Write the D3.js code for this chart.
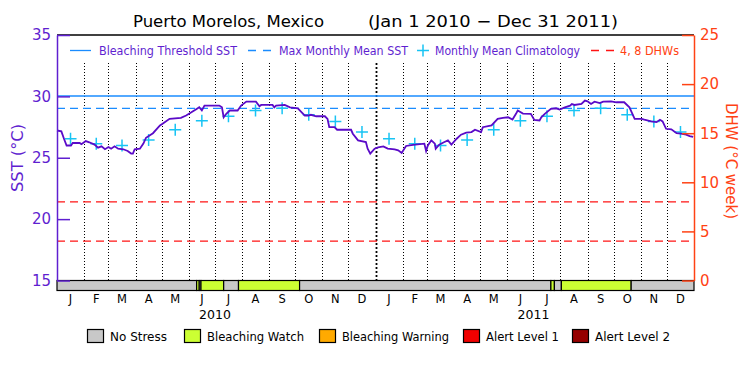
<!DOCTYPE html>
<meta charset="utf-8">
<style>

body {
  margin: 0;
  background: #fff;
}

text {
  font-family: "DejaVu Sans", sans-serif;
}

</style>
<body>
<script src="https://d3js.org/d3.v7.min.js"></script>
<script>

// monthly mean climatology (Jan..Dec), degC
var monthLabels = ["J", "F", "M", "A", "M", "J", "J", "A", "S", "O", "N", "D"];
var yearLabels = ["2010", "2011"];
var climatology = [26.55, 26.15, 26.0, 26.45, 27.28, 28.02, 28.38, 28.85, 29.03, 28.51, 27.96, 27.09];
var mmm = 29.03;
var bleachingThreshold = 30.03;
var dhwLevels = [4, 8];

var sstTicks = [15, 20, 25, 30, 35];
var dhwTicks = [0, 5, 10, 15, 20, 25];

// SST
var sstDates = [
  "2010-01-01","2010-01-06","2010-01-09","2010-01-12","2010-01-17","2010-01-19","2010-01-27","2010-01-29",
  "2010-02-03","2010-02-07","2010-02-13","2010-02-17","2010-02-21","2010-02-25",
  "2010-03-01","2010-03-04","2010-03-08","2010-03-12","2010-03-18","2010-03-23","2010-03-27","2010-03-29","2010-03-31",
  "2010-04-06","2010-04-10","2010-04-13","2010-04-21","2010-04-29",
  "2010-05-02","2010-05-10","2010-05-23","2010-05-29",
  "2010-06-04","2010-06-10","2010-06-13","2010-06-16","2010-06-19",
  "2010-07-06","2010-07-09","2010-07-11","2010-07-14","2010-07-18","2010-07-27","2010-07-31",
  "2010-08-06","2010-08-17","2010-08-21","2010-08-23",
  "2010-09-05","2010-09-07","2010-09-09","2010-09-19","2010-09-25",
  "2010-10-04","2010-10-12","2010-10-16","2010-10-19","2010-10-25",
  "2010-11-04","2010-11-07","2010-11-09","2010-11-15","2010-11-18",
  "2010-12-04","2010-12-06","2010-12-12","2010-12-21","2010-12-23","2010-12-26","2010-12-31",
  "2011-01-04","2011-01-10","2011-01-15","2011-01-23","2011-01-27","2011-01-31",
  "2011-02-05","2011-02-13","2011-02-26","2011-02-28",
  "2011-03-02","2011-03-06","2011-03-10","2011-03-11","2011-03-15","2011-03-21","2011-03-25","2011-03-29",
  "2011-04-04","2011-04-09","2011-04-15","2011-04-21","2011-04-25",
  "2011-05-02","2011-05-04","2011-05-14","2011-05-21","2011-05-27",
  "2011-06-02","2011-06-07","2011-06-11","2011-06-13","2011-06-19","2011-06-28",
  "2011-07-02","2011-07-08","2011-07-10","2011-07-14","2011-07-21","2011-07-27","2011-07-31",
  "2011-08-06","2011-08-12","2011-08-14","2011-08-17","2011-08-25","2011-08-29",
  "2011-09-01","2011-09-05","2011-09-09","2011-09-15","2011-09-19","2011-09-28",
  "2011-10-04","2011-10-13","2011-10-19","2011-10-25",
  "2011-11-02","2011-11-05","2011-11-13","2011-11-19","2011-11-23","2011-11-26","2011-11-30",
  "2011-12-06","2011-12-12","2011-12-17","2011-12-23","2011-12-27","2011-12-31"
];
var sstValues = [
  27.22, 27.15, 26.55, 26.0, 26.0, 26.2, 26.2, 26.1,
  26.36, 26.26, 26.07, 25.82, 25.93, 25.7,
  25.87, 25.74, 25.93, 25.74, 25.69, 25.55, 25.34, 25.34, 25.69,
  25.74, 26.15, 26.63, 27.0, 27.63,
  27.77, 28.17, 28.25, 28.44,
  28.7, 28.98, 29.11, 28.85, 29.25,
  29.25, 29.11, 28.3, 28.58, 28.85, 28.85, 29.25,
  29.57, 29.57, 29.19, 29.3,
  29.3, 29.11, 29.25, 29.3, 29.11,
  29.03, 28.44, 28.44, 28.5, 28.38,
  28.38, 28.17, 27.49, 27.49, 27.28,
  27.28, 26.96, 26.42, 26.28, 25.74, 25.34, 25.74,
  25.85, 25.93, 25.74, 25.69, 25.6, 25.39,
  25.96, 26.05, 26.15, 25.55,
  26.0, 26.42, 26.15, 25.74, 26.07, 26.28, 26.42, 26.07,
  26.55, 26.88, 27.04, 27.09, 27.28,
  27.09, 27.49, 27.63, 28.17, 28.25,
  28.3, 28.12, 28.58, 28.85, 28.6, 28.58,
  28.08, 28.04, 28.3, 28.58, 28.98, 29.03, 28.93,
  29.11, 29.25, 29.38, 29.3, 29.38, 29.66,
  29.6, 29.38, 29.57, 29.45, 29.57, 29.6,
  29.52, 29.52, 29.11, 28.17,
  28.17, 28.1, 27.96, 27.9, 28.09, 27.96, 27.36,
  27.31, 27.0, 26.96, 26.88, 26.77, 26.7
];

// bleaching alert stress bar: 0 = no stress, 1 = watch
var stressStarts = ["2010-01-01","2010-06-10","2010-06-13","2010-06-15","2010-07-11","2010-07-28","2010-10-06","2011-07-21","2011-07-25","2011-08-02","2011-10-21"];
var stressEnds   = ["2010-06-10","2010-06-13","2010-06-15","2010-07-11","2010-07-28","2010-10-06","2011-07-21","2011-07-25","2011-08-02","2011-10-21","2012-01-01"];
var stressLevels = [0, 1, 0, 1, 0, 1, 0, 1, 0, 1, 0];

var stressNames = ["No Stress", "Bleaching Watch", "Bleaching Warning", "Alert Level 1", "Alert Level 2"];
var stressColors = ["#c8c8c8", "#ccff33", "#ffaa00", "#f00000", "#960000"];

var parse = d3.utcParse("%Y-%m-%d");

var width = 750, height = 375;
var plotL = 57, plotR = 694, plotT = 35, plotB = 280.5;

var purple = "#5f1fd0", lineCol = "#5a0ac8", blue = "#1a8cff", cyan = "#18c4f4", orange = "#ff4214";

var svg = d3.select("body").append("svg")
    .attr("width", width)
    .attr("height", height);

var x = d3.scaleUtc()
    .domain([parse("2010-01-01"), parse("2012-01-01")])
    .range([plotL, plotR]);

var ySst = d3.scaleLinear().domain([15, 35]).range([plotB, plotT]);
var yDhw = d3.scaleLinear().domain([0, 25]).range([plotB, plotT]);

// title
svg.append("text")
    .attr("x", 133).attr("y", 27)
    .attr("font-size", 16)
    .attr("textLength", 191).attr("lengthAdjust", "spacingAndGlyphs")
    .text("Puerto Morelos, Mexico");
svg.append("text")
    .attr("x", 368).attr("y", 27)
    .attr("font-size", 16)
    .attr("textLength", 250).attr("lengthAdjust", "spacingAndGlyphs")
    .text("(Jan 1 2010 \u2212 Dec 31 2011)");

// month boundaries, dotted
var monthStarts = d3.utcMonth.range(parse("2010-02-01"), parse("2012-01-01"));
svg.append("g").selectAll("line")
    .data(monthStarts)
  .enter().append("line")
    .attr("x1", function(d) { return Math.round(x(d)) + 0.5; })
    .attr("x2", function(d) { return Math.round(x(d)) + 0.5; })
    .attr("y1", 63)
    .attr("y2", plotB)
    .attr("stroke", "#000")
    .attr("stroke-width", function(d) { return d.getUTCMonth() == 0 ? 1.8 : 1; })
    .attr("stroke-dasharray", function(d) { return d.getUTCMonth() == 0 ? "2,2" : "1,2"; });

// threshold lines
svg.append("line")
    .attr("x1", plotL).attr("x2", plotR)
    .attr("y1", ySst(bleachingThreshold)).attr("y2", ySst(bleachingThreshold))
    .attr("stroke", blue).attr("stroke-width", 1.3);
svg.append("line")
    .attr("x1", plotL).attr("x2", plotR)
    .attr("y1", ySst(mmm)).attr("y2", ySst(mmm))
    .attr("stroke", blue).attr("stroke-width", 1.3)
    .attr("stroke-dasharray", "8,5");

svg.append("g").selectAll("line")
    .data(dhwLevels)
  .enter().append("line")
    .attr("x1", plotL).attr("x2", plotR)
    .attr("y1", function(d) { return yDhw(d); })
    .attr("y2", function(d) { return yDhw(d); })
    .attr("stroke", "#ff1414").attr("stroke-width", 1.3)
    .attr("stroke-dasharray", "8,5");

// climatology crosses at mid-month, both years
var clim = [];
yearLabels.forEach(function(yr) {
  climatology.forEach(function(v, i) {
    var a = new Date(Date.UTC(+yr, i, 1)), b = new Date(Date.UTC(+yr, i + 1, 1));
    clim.push({date: new Date((+a + +b) / 2), value: v});
  });
});
svg.append("g").selectAll("path")
    .data(clim)
  .enter().append("path")
    .attr("d", function(d) {
      var cx = x(d.date), cy = ySst(d.value);
      return "M" + (cx - 6) + "," + cy + "H" + (cx + 6) + "M" + cx + "," + (cy - 6) + "V" + (cy + 6);
    })
    .attr("stroke", cyan).attr("stroke-width", 1.5).attr("fill", "none");

// SST line
var sst = sstDates.map(function(d, i) { return {date: parse(d), value: sstValues[i]}; });
svg.append("path")
    .datum(sst)
    .attr("fill", "none")
    .attr("stroke", lineCol)
    .attr("stroke-width", 1.8)
    .attr("d", d3.line()
        .x(function(d) { return x(d.date); })
        .y(function(d) { return ySst(d.value); }));

// stress bar
svg.append("g").selectAll("rect")
    .data(stressLevels)
  .enter().append("rect")
    .attr("x", function(d, i) { return x(parse(stressStarts[i])); })
    .attr("width", function(d, i) { return x(parse(stressEnds[i])) - x(parse(stressStarts[i])); })
    .attr("y", plotB)
    .attr("height", 10)
    .attr("fill", function(d) { return stressColors[d]; })
    .attr("stroke", "#000")
    .attr("stroke-width", 1.2);

// top frame
svg.append("line")
    .attr("x1", plotL).attr("x2", plotR)
    .attr("y1", plotT).attr("y2", plotT)
    .attr("stroke", "#000").attr("stroke-width", 1.5);

// left axis
var gl = svg.append("g").attr("transform", "translate(" + plotL + ",0)");
gl.call(d3.axisLeft(ySst).tickValues(d3.range(15, 36)).tickSize(-6).tickSizeOuter(0).tickFormat(""));
gl.call(d3.axisLeft(ySst).tickValues(sstTicks).tickSize(-13).tickSizeOuter(0).tickPadding(6));
gl.selectAll("path, line").attr("stroke", purple).attr("stroke-width", 1.5);
gl.selectAll("text").attr("fill", purple).attr("font-size", 15).attr("font-family", "DejaVu Sans");

// right axis
var gr = svg.append("g").attr("transform", "translate(" + plotR + ",0)");
gr.call(d3.axisRight(yDhw).tickValues(d3.range(0, 26)).tickSize(-6).tickSizeOuter(0).tickFormat(""));
gr.call(d3.axisRight(yDhw).tickValues(dhwTicks).tickSize(-12).tickSizeOuter(0).tickPadding(6));
gr.selectAll("path, line").attr("stroke", orange).attr("stroke-width", 1.5);
gr.selectAll("text").attr("fill", orange).attr("font-size", 15).attr("font-family", "DejaVu Sans");

// axis titles
svg.append("text")
    .attr("transform", "translate(23,158) rotate(-90)")
    .attr("text-anchor", "middle")
    .attr("font-size", 15).attr("fill", purple)
    .attr("textLength", 68).attr("lengthAdjust", "spacingAndGlyphs")
    .text("SST (\u00b0C)");
svg.append("text")
    .attr("transform", "translate(726,161) rotate(90)")
    .attr("text-anchor", "middle")
    .attr("font-size", 15).attr("fill", orange)
    .attr("textLength", 116).attr("lengthAdjust", "spacingAndGlyphs")
    .text("DHW (\u00b0C week)");

// month and year labels
var monthMids = d3.utcMonth.range(parse("2010-01-01"), parse("2012-01-01")).map(function(d) {
  return new Date((+d + +d3.utcMonth.offset(d, 1)) / 2);
});
svg.append("g").selectAll("text")
    .data(monthMids)
  .enter().append("text")
    .attr("x", function(d) { return x(d); })
    .attr("y", 303)
    .attr("text-anchor", "middle")
    .attr("font-size", 11.5)
    .text(function(d) { return monthLabels[d.getUTCMonth()]; });

svg.append("g").selectAll("text")
    .data(yearLabels)
  .enter().append("text")
    .attr("x", function(d) { return x(parse(d + "-07-01")); })
    .attr("y", 319)
    .attr("text-anchor", "middle")
    .attr("font-size", 12.5)
    .text(function(d) { return d; });

// top legend
var lg = svg.append("g");
lg.append("line").attr("x1", 70).attr("x2", 91).attr("y1", 50.5).attr("y2", 50.5)
    .attr("stroke", blue).attr("stroke-width", 1.3);
lg.append("line").attr("x1", 248).attr("x2", 271).attr("y1", 50.5).attr("y2", 50.5)
    .attr("stroke", blue).attr("stroke-width", 1.3).attr("stroke-dasharray", "8,7");
lg.append("path").attr("d", "M417,50.5H429M423,44.5V56.5")
    .attr("stroke", cyan).attr("stroke-width", 1.5);
lg.append("line").attr("x1", 591).attr("x2", 614).attr("y1", 50.5).attr("y2", 50.5)
    .attr("stroke", "#ff1414").attr("stroke-width", 1.3).attr("stroke-dasharray", "8,7");

var legendItems = [
  {x: 99, w: 138, t: "Bleaching Threshold SST", c: purple},
  {x: 279, w: 129, t: "Max Monthly Mean SST", c: purple},
  {x: 435, w: 145, t: "Monthly Mean Climatology", c: purple},
  {x: 620, w: 59, t: "4, 8 DHWs", c: orange}
];
lg.selectAll("text")
    .data(legendItems)
  .enter().append("text")
    .attr("x", function(d) { return d.x; })
    .attr("y", 55)
    .attr("font-size", 12)
    .attr("fill", function(d) { return d.c; })
    .attr("textLength", function(d) { return d.w; })
    .attr("lengthAdjust", "spacingAndGlyphs")
    .text(function(d) { return d.t; });

// stress legend
var boxX = [87, 184, 319, 463, 572];
var textW = [57, 97, 107, 73, 75];
var sl = svg.append("g").selectAll("g")
    .data(stressNames)
  .enter().append("g")
    .attr("transform", function(d, i) { return "translate(" + boxX[i] + ",329)"; });
sl.append("rect")
    .attr("x", 0.5).attr("y", 0.5)
    .attr("width", 16).attr("height", 13)
    .attr("fill", function(d, i) { return stressColors[i]; })
    .attr("stroke", "#000").attr("stroke-width", 1.2);
sl.append("text")
    .attr("x", 23).attr("y", 11.5)
    .attr("font-size", 12)
    .attr("textLength", function(d, i) { return textW[i]; })
    .attr("lengthAdjust", "spacingAndGlyphs")
    .text(function(d) { return d; });

</script>
